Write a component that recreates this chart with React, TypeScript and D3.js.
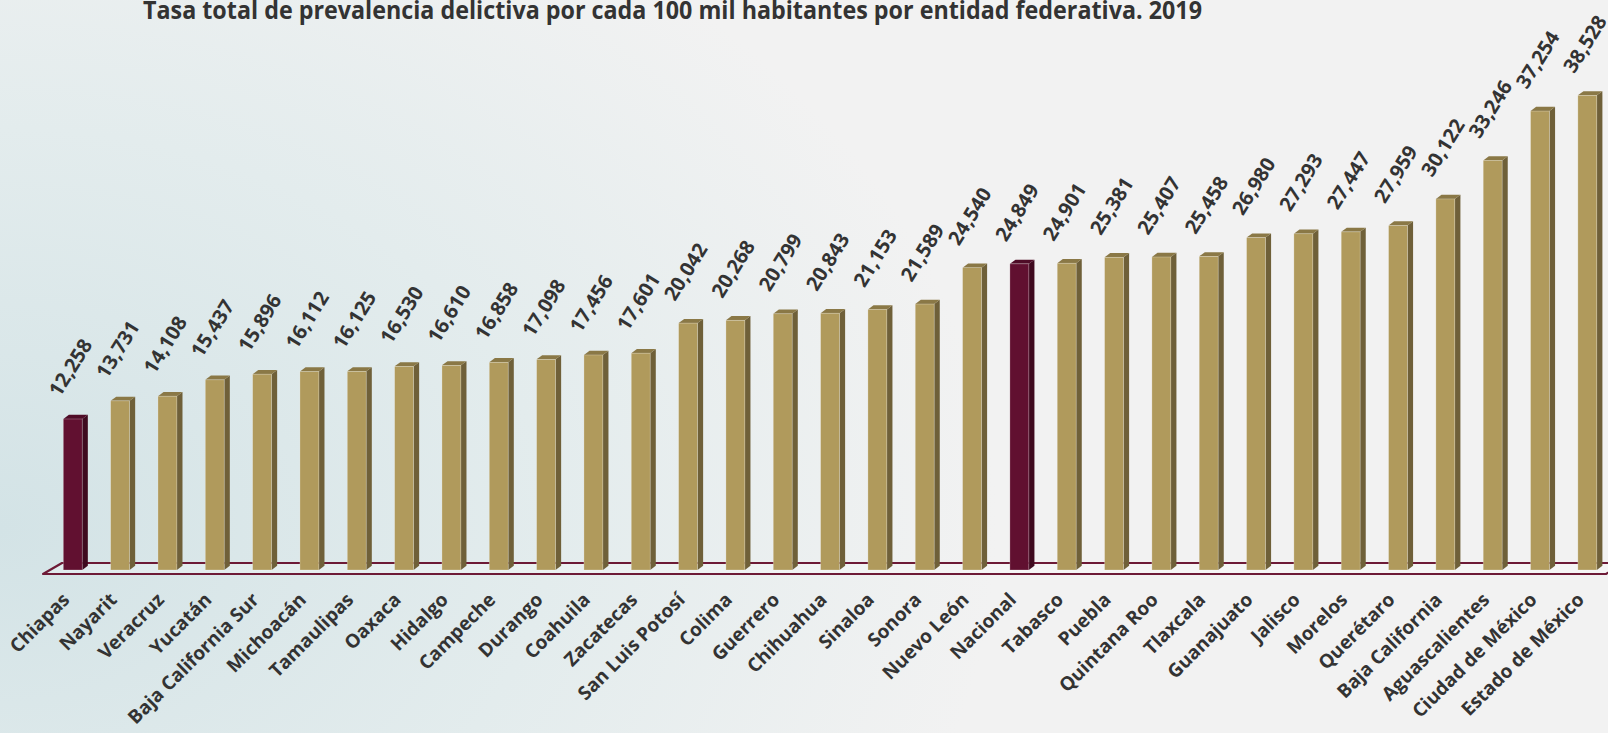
import React from "react";
import * as d3 from "d3";

const categories = [
  "Chiapas", "Nayarit", "Veracruz", "Yucatán", "Baja California Sur", "Michoacán",
  "Tamaulipas", "Oaxaca", "Hidalgo", "Campeche", "Durango", "Coahuila", "Zacatecas",
  "San Luis Potosí", "Colima", "Guerrero", "Chihuahua", "Sinaloa", "Sonora",
  "Nuevo León", "Nacional", "Tabasco", "Puebla", "Quintana Roo", "Tlaxcala",
  "Guanajuato", "Jalisco", "Morelos", "Querétaro", "Baja California",
  "Aguascalientes", "Ciudad de México", "Estado de México",
];

const values = [
  12258, 13731, 14108, 15437, 15896, 16112, 16125, 16530, 16610, 16858, 17098,
  17456, 17601, 20042, 20268, 20799, 20843, 21153, 21589, 24540, 24849, 24901,
  25381, 25407, 25458, 26980, 27293, 27447, 27959, 30122, 33246, 37254, 38528,
];

const highlighted = ["Chiapas", "Nacional"];

const title = "Tasa total de prevalencia delictiva por cada 100 mil habitantes por entidad federativa. 2019";

const W = 1608;
const H = 733;
const FONT = "'Open Sans', 'DejaVu Sans', sans-serif";

export default function App() {
  const x = d3
    .scaleBand<string>()
    .domain(categories)
    .range([49.1, 1611])
    .paddingInner(0.6)
    .paddingOuter(0.3);
  const y = d3.scaleLinear().domain([0, 40000]).range([570, 77.2]);
  const fmt = d3.format(",");
  const bw = x.bandwidth();
  const dx = 5.6;
  const dy = 4.2;
  const base = y(0);

  const colors = (c: string) =>
    highlighted.includes(c)
      ? { front: "#611030", side: "#3f0a1f", top: "#4f0c27" }
      : { front: "#b09a5c", side: "#6f6039", top: "#8a7846" };

  return (
    <svg
      width={W}
      height={H}
      style={{ position: "absolute", left: 0, top: 0, display: "block" }}
      fontFamily={FONT}
    >
      <defs>
        <radialGradient id="bg" cx="0" cy="0.72" r="0.62" gradientUnits="objectBoundingBox" gradientTransform="scale(1,1.6) translate(0,-0.27)">
          <stop offset="0" stopColor="#d3e3e6" />
          <stop offset="0.55" stopColor="#e3eced" />
          <stop offset="1" stopColor="#f2f2f2" />
        </radialGradient>
      </defs>
      <rect x={0} y={0} width={W} height={H} fill="#f2f2f2" />
      <rect x={0} y={0} width={W} height={H} fill="url(#bg)" />

      <text
        x={143}
        y={19}
        fontSize={25}
        fontWeight="bold"
        fill="#333333"
        textLength={1059}
        lengthAdjust="spacingAndGlyphs"
      >
        {title}
      </text>

      {/* floor */}
      <polygon
        points={`43,574 62,563 1625,563 1606,574`}
        fill="rgba(255,255,255,0.25)"
        stroke="#6d1a36"
        strokeWidth={2.2}
        strokeLinejoin="round"
      />

      {categories.map((c, i) => {
        const x0 = x(c)!;
        const top = y(values[i]);
        const col = colors(c);
        return (
          <g key={c}>
            <polygon
              points={`${x0 + bw},${base} ${x0 + bw + dx},${base - dy} ${x0 + bw + dx},${top - dy} ${x0 + bw},${top}`}
              fill={col.side}
            />
            <polygon
              points={`${x0},${top} ${x0 + dx},${top - dy} ${x0 + bw + dx},${top - dy} ${x0 + bw},${top}`}
              fill={col.top}
            />
            <rect
              x={x0}
              y={top}
              width={bw}
              height={base - top}
              fill={col.front}
              stroke="rgba(255,255,255,0.35)"
              strokeWidth={0.7}
            />
          </g>
        );
      })}

      {categories.map((c, i) => {
        const cx = x(c)! + bw / 2;
        const ty = y(values[i]);
        return (
          <text
            key={"v" + c}
            transform={`translate(${cx - 13},${ty - 21}) rotate(-58)`}
            fontSize={20}
            fontWeight="bold"
            fill="#333333"
          >
            {fmt(values[i])}
          </text>
        );
      })}

      {categories.map((c) => {
        const cx = x(c)! + bw / 2;
        return (
          <text
            key={"c" + c}
            transform={`translate(${cx - 2},${601}) rotate(-45)`}
            textAnchor="end"
            fontSize={19}
            fontWeight="bold"
            fill="#333333"
          >
            {c}
          </text>
        );
      })}
    </svg>
  );
}
